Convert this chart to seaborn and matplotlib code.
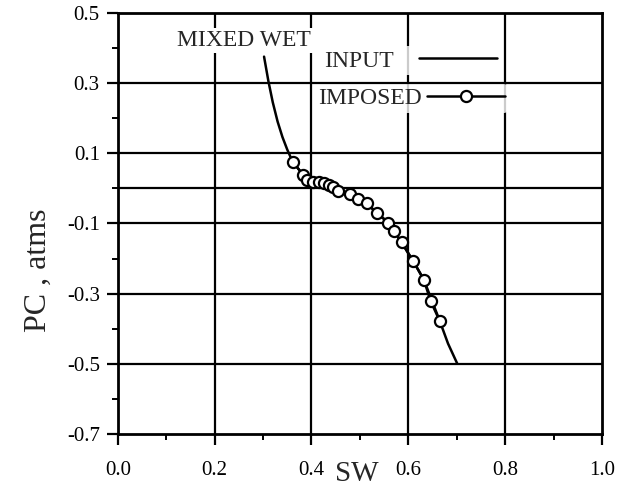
import numpy as np
import pandas as pd
import matplotlib
matplotlib.use('Agg')
import matplotlib.pyplot as plt
from matplotlib.ticker import MultipleLocator
import seaborn as sns

# curve values
sw_input = [0.302, 0.311, 0.320, 0.330, 0.340, 0.350, 0.361, 0.383, 0.404, 0.426, 0.445,
            0.479, 0.514, 0.535, 0.559, 0.586, 0.610, 0.632, 0.665, 0.682, 0.701]
pc_input = [0.375, 0.305, 0.245, 0.190, 0.146, 0.110, 0.076, 0.038, 0.019, 0.016, 0.003,
            -0.017, -0.043, -0.070, -0.098, -0.154, -0.207, -0.260, -0.378, -0.442, -0.499]

sw_imposed = [0.361, 0.383, 0.391, 0.404, 0.416, 0.426, 0.436, 0.445, 0.455, 0.479,
              0.497, 0.514, 0.535, 0.559, 0.570, 0.586, 0.610, 0.632, 0.646, 0.665]
pc_imposed = [0.076, 0.038, 0.023, 0.019, 0.019, 0.016, 0.009, 0.003, -0.007, -0.017,
              -0.029, -0.043, -0.070, -0.098, -0.121, -0.154, -0.207, -0.260, -0.321, -0.378]

x_ticks = [0.0, 0.2, 0.4, 0.6, 0.8, 1.0]
y_ticks = [0.5, 0.3, 0.1, -0.1, -0.3, -0.5, -0.7]

df_input = pd.DataFrame({'SW': sw_input, 'PC': pc_input})
df_imposed = pd.DataFrame({'SW': sw_imposed, 'PC': pc_imposed})

sns.set_theme(style='ticks')
plt.rcParams['font.family'] = ['Liberation Serif', 'DejaVu Serif']
plt.rcParams['axes.linewidth'] = 2.0

fig, ax = plt.subplots(figsize=(6.37, 4.9), dpi=100)
fig.subplots_adjust(left=0.185, right=0.945, top=0.974, bottom=0.114)

# grid (majors + the zero line); the 0.3 line runs over the legend boxes
for xv in x_ticks[1:-1]:
    ax.axvline(xv, color='black', lw=1.6, zorder=1)
for yv in y_ticks[1:-1] + [0.0]:
    ax.axhline(yv, color='black', lw=1.6, zorder=6 if yv == 0.3 else 1)

sns.lineplot(data=df_input, x='SW', y='PC', sort=False, color='black', lw=1.8,
             label='INPUT', ax=ax, zorder=3)
sns.lineplot(data=df_imposed, x='SW', y='PC', sort=False, color='black', lw=1.8,
             marker='o', markersize=8, markerfacecolor='white', markeredgecolor='black',
             markeredgewidth=1.6, label='IMPOSED', ax=ax, zorder=4)
handles, labels = ax.get_legend_handles_labels()
ax.get_legend().remove()

ax.set_xlim(0, 1.0)
ax.set_ylim(-0.7, 0.5)
ax.set_xticks(x_ticks)
ax.set_yticks(y_ticks)
ax.set_xticklabels([f'{v:.1f}' for v in x_ticks])
ax.set_yticklabels([f'{v:.1f}' for v in y_ticks])
ax.xaxis.set_minor_locator(MultipleLocator(0.1))
ax.yaxis.set_minor_locator(MultipleLocator(0.1))
ax.tick_params(which='major', direction='out', length=8, width=1.6, colors='black', labelsize=15)
ax.tick_params(which='minor', direction='out', length=4, width=1.4, colors='black')
ax.tick_params(axis='x', which='major', pad=11)
ax.tick_params(axis='y', which='major', pad=5)
for sp in ax.spines.values():
    sp.set_visible(True)
    sp.set_color('black')

ax.set_xlabel('SW', fontsize=21)
ax.set_ylabel('PC , atms', fontsize=23)
ax.xaxis.set_label_coords(0.494, -0.064)
ax.yaxis.set_label_coords(-0.135, 0.39)

ax.text(0.26, 0.422, 'MIXED WET', fontsize=17, ha='center', va='center', zorder=5,
        bbox=dict(facecolor='white', edgecolor='none', pad=1.5))

# two one-entry legends so each key sits where the original put it
leg_opts = dict(loc='center left', markerfirst=False, frameon=True, fontsize=17,
                borderpad=0.15, borderaxespad=0.0)
leg1 = ax.legend(handles=handles[:1], labels=labels[:1], bbox_to_anchor=(0.418, 0.886),
                 handlelength=3.3, handletextpad=1.1, **leg_opts)
leg1.get_frame().set_facecolor('white')
leg1.get_frame().set_edgecolor('none')
ax.add_artist(leg1)
leg2 = ax.legend(handles=handles[1:], labels=labels[1:], bbox_to_anchor=(0.407, 0.797),
                 handlelength=3.3, handletextpad=0.2, **leg_opts)
leg2.get_frame().set_facecolor('white')
leg2.get_frame().set_edgecolor('none')

fig.savefig('out.png', dpi=100)
